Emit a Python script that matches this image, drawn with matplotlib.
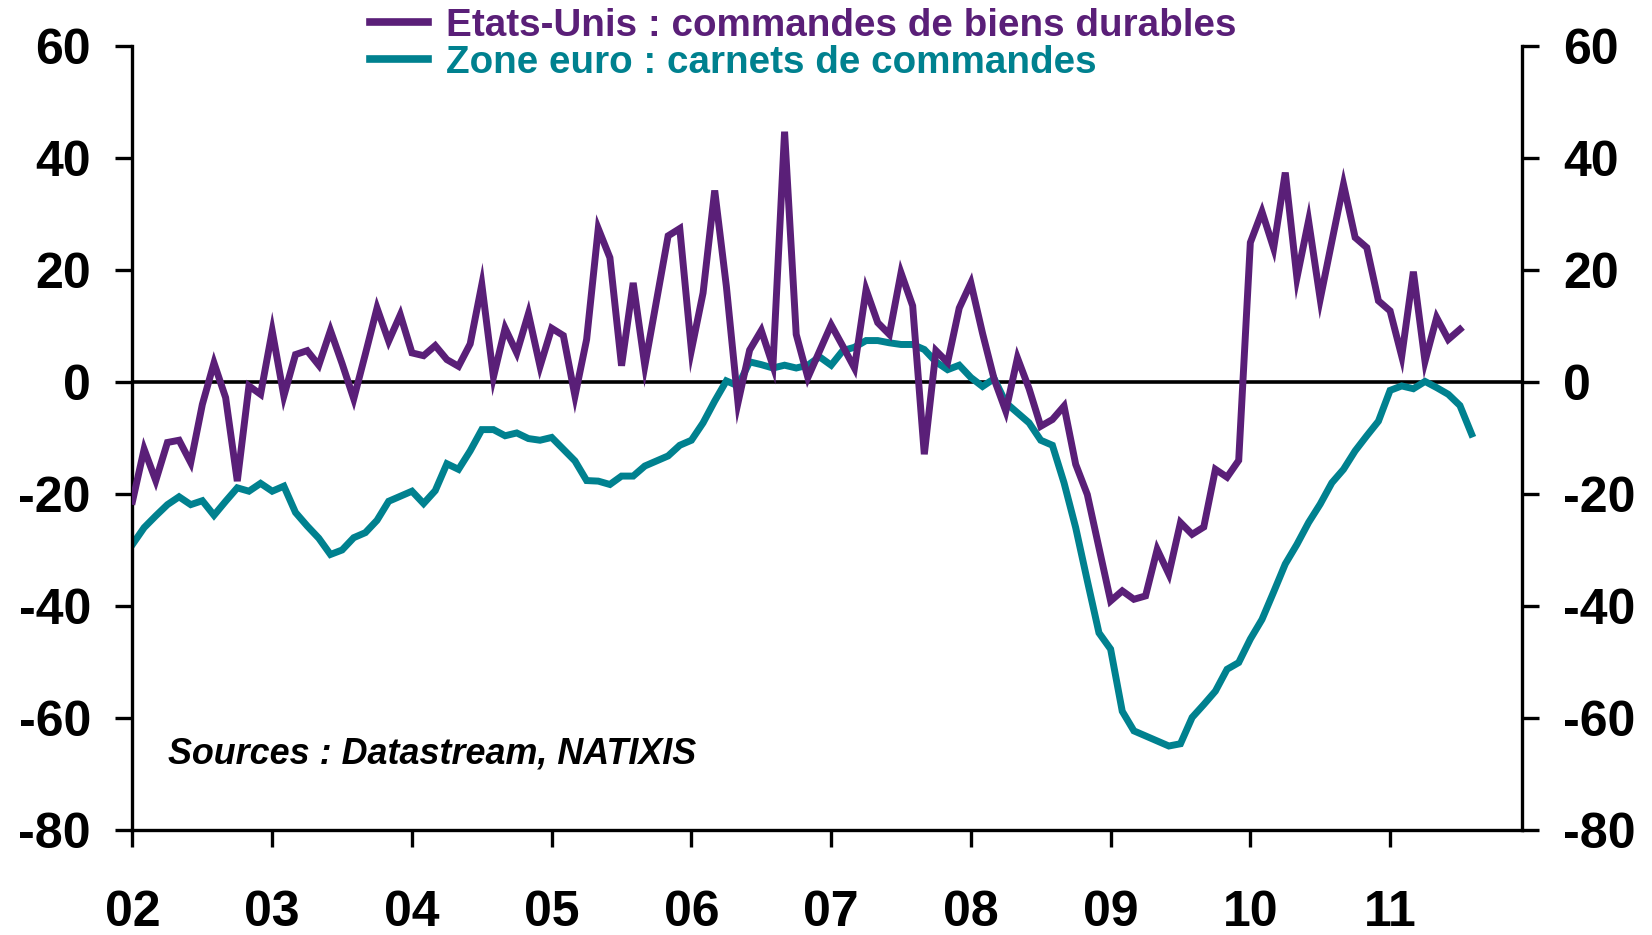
import numpy as np
import matplotlib
matplotlib.use('Agg')
import matplotlib.pyplot as plt

# monthly values, Jan 2002 onwards
us_orders = [-21.3, -12.0, -17.6, -10.8, -10.4, -14.4, -4.0, 3.4, -2.8, -17.7, -0.7, -2.2,
             9.1, -2.5, 4.9, 5.6, 3.0, 9.2, 3.3, -3.0, 5.0, 13.2, 7.3, 12.0,
             5.2, 4.7, 6.5, 4.0, 2.8, 6.8, 17.4, 0.9, 9.6, 5.2, 12.2, 2.8,
             9.6, 8.3, -2.5, 7.6, 27.4, 22.2, 2.9, 17.7, 2.9, 14.5, 26.1, 27.4,
             5.7, 15.9, 34.2, 17.1, -3.7, 5.7, 9.2, 2.9, 44.7, 8.5, 0.8, 5.5,
             10.2, 6.4, 2.5, 16.5, 10.6, 8.5, 19.5, 13.6, -12.9, 5.6, 3.5, 13.2,
             17.7, 8.7, 0.5, -5.2, 4.3, -1.2, -7.9, -6.7, -4.3, -14.7, -20.1, -29.6,
             -39.1, -37.3, -38.8, -38.2, -29.9, -34.3, -25.1, -27.2, -25.9, -15.6, -17.0, -14.0,
             24.9, 30.4, 23.9, 37.4, 18.6, 28.8, 14.8, 25.1, 35.3, 25.8, 24.0, 14.5,
             12.7, 4.6, 19.7, 3.7, 11.5, 7.6, 9.4]

ez_orders = [-29.0, -26.0, -23.9, -21.9, -20.5, -21.9, -21.2, -23.8, -21.3, -18.9, -19.5, -18.1,
             -19.5, -18.6, -23.3, -25.7, -27.9, -30.8, -30.0, -27.8, -26.9, -24.7, -21.3, -20.4,
             -19.5, -21.7, -19.4, -14.6, -15.6, -12.3, -8.5, -8.5, -9.6, -9.1, -10.1, -10.4,
             -9.9, -12.0, -14.1, -17.6, -17.7, -18.3, -16.8, -16.8, -15.0, -14.1, -13.2, -11.3,
             -10.4, -7.3, -3.4, 0.2, -0.7, 3.6, 3.1, 2.5, 3.0, 2.5, 3.0, 4.5,
             3.0, 5.6, 6.2, 7.4, 7.4, 7.0, 6.7, 6.7, 5.8, 3.6, 2.2, 3.0,
             0.8, -0.8, 0.6, -3.7, -5.5, -7.3, -10.4, -11.3, -18.0, -26.0, -35.5, -44.8,
             -47.7, -58.8, -62.3, -63.2, -64.1, -65.0, -64.6, -59.9, -57.6, -55.2, -51.3, -50.1,
             -45.9, -42.4, -37.5, -32.5, -29.0, -25.1, -21.8, -18.0, -15.6, -12.3, -9.6, -7.0,
             -1.5, -0.7, -1.2, 0.1, -1.0, -2.2, -4.2, -9.3]

year_labels = ['02', '03', '04', '05', '06', '07', '08', '09', '10', '11']
y_ticks = [-80, -60, -40, -20, 0, 20, 40, 60]

purple = '#5a1f78'
teal = '#00818f'

plt.rcParams['font.family'] = ['Liberation Sans', 'DejaVu Sans']
plt.rcParams['font.weight'] = 'bold'
plt.rcParams['axes.unicode_minus'] = False

fig = plt.figure(figsize=(16.52, 9.35), dpi=100)
ax = fig.add_axes([0.0802, 0.1123, 0.9211 - 0.0802, 0.9508 - 0.1123])

x_us = np.arange(len(us_orders))
x_ez = np.arange(len(ez_orders))
ax.axhline(0, color='black', lw=2.6, zorder=1)
ax.plot(x_us, us_orders, color=purple, lw=5, label='Etats-Unis : commandes de biens durables',
        solid_joinstyle='miter', zorder=3)
ax.plot(x_ez, ez_orders, color=teal, lw=5, label='Zone euro : carnets de commandes',
        solid_joinstyle='miter', zorder=2)

ax.set_xlim(0, 119.3)
ax.set_ylim(-80, 60)
ax.set_xticks(np.arange(len(year_labels)) * 12)
ax.set_xticklabels(year_labels)
ax.set_yticks(y_ticks)

ax.spines['top'].set_visible(False)
for s in ['left', 'right', 'bottom']:
    ax.spines[s].set_linewidth(2.4)

ax.tick_params(axis='x', direction='out', length=12, width=2.4, pad=31, labelsize=36)
ax.tick_params(axis='y', direction='out', length=12, width=2.4, pad=18, labelsize=36,
               left=True, right=True, labelleft=True, labelright=True)

leg = ax.legend(loc='upper left', bbox_to_anchor=(370 / 1652, 1 - 8 / 935),
                bbox_transform=fig.transFigure, frameon=False, fontsize=27.8,
                handlelength=1.5, handletextpad=0.48, labelspacing=0.02,
                borderaxespad=0, borderpad=0, labelcolor='linecolor')
for line in leg.get_lines():
    line.set_linewidth(5.5)

fig.text(168 / 1652, 1 - 754 / 935, 'Sources : Datastream, NATIXIS', fontsize=25.8,
         style='italic', weight='bold', va='center', ha='left')

fig.savefig('out.png', dpi=100)
